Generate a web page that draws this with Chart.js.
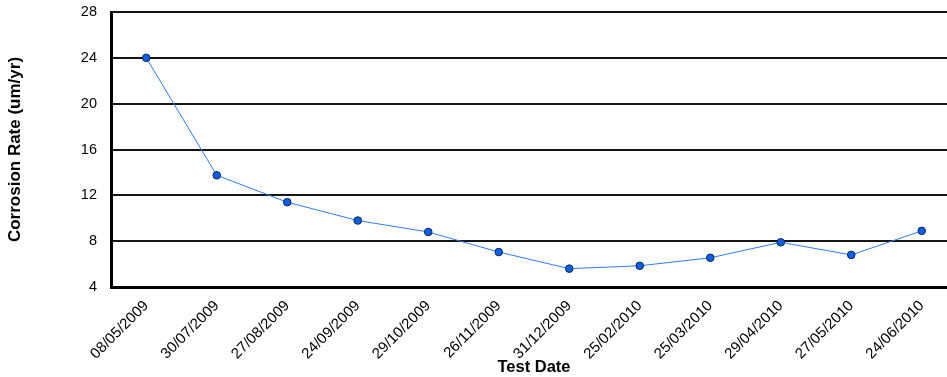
<!DOCTYPE html>
<html>
<head>
<meta charset="utf-8">
<script src="https://cdn.jsdelivr.net/npm/chart.js@4.4.0/dist/chart.umd.min.js"></script>
<style>
  html, body { margin: 0; padding: 0; background: #fff; overflow: hidden; }
  #wrap { width: 962px; height: 377px; }
</style>
</head>
<body>
<div id="wrap"><canvas id="myChart" width="962" height="377"></canvas></div>
<script>
// test dates and corrosion rates
const testDates = ['08/05/2009', '30/07/2009', '27/08/2009', '24/09/2009', '29/10/2009', '26/11/2009',
  '31/12/2009', '25/02/2010', '25/03/2010', '29/04/2010', '27/05/2010', '24/06/2010'];
const corrosionRate = [24.0, 13.75, 11.4, 9.8, 8.8, 7.05, 5.6, 5.85, 6.55, 7.9, 6.8, 8.9];
const yTicks = [4, 8, 12, 16, 20, 24, 28];

var ctx = document.getElementById('myChart').getContext('2d');
var myChart = new Chart(ctx, {
  type: 'line',
  data: {
    labels: testDates,
    datasets: [
      {
        data: corrosionRate,
        borderColor: '#2a7dff',
        borderWidth: 1,
        pointBackgroundColor: '#0060f0',
        pointBorderColor: '#1c2440',
        pointBorderWidth: 1,
        pointRadius: 3.8,
        tension: 0,
        fill: false,
      },
    ],
  },
  options: {
    responsive: false,
    animation: false,
    layout: { padding: { left: 5, right: 3, top: 12, bottom: 0 } },
    scales: {
      x: {
        offset: true,
        // fixed axis height so the plot bottom sits where the original has it
        afterFit: function (scale) {
          scale.height = 90;
        },
        grid: { display: false },
        border: { display: true, color: '#000', width: 3 },
        ticks: {
          color: '#000',
          minRotation: 45,
          maxRotation: 45,
          autoSkip: false,
          padding: 2,
          font: { size: 15, family: 'Liberation Sans' },
        },
        title: {
          display: true,
          text: 'Test Date',
          color: '#000',
          padding: { top: 0, bottom: 0 },
          font: { size: 16.5, weight: 'bold', family: 'Liberation Sans' },
        },
      },
      y: {
        min: 4,
        max: 28,
        afterBuildTicks: function (axis) {
          axis.ticks = yTicks.map(function (v) { return { value: v }; });
        },
        afterFit: function (scale) {
          scale.width = 106;
          scale.paddingTop = 0;
          scale.paddingBottom = 0;
        },
        grid: { color: '#141414', lineWidth: 2, drawTicks: false },
        border: { display: true, color: '#000', width: 3 },
        ticks: {
          color: '#000',
          padding: 14,
          font: { size: 14.5, family: 'Liberation Sans' },
        },
        title: {
          display: true,
          text: 'Corrosion Rate (um/yr)',
          color: '#000',
          padding: { top: 0, bottom: 0 },
          font: { size: 17, weight: 'bold', family: 'Liberation Sans' },
        },
      },
    },
    plugins: {
      legend: { display: false },
      tooltip: { enabled: false },
    },
  },
});
</script>
</body>
</html>
